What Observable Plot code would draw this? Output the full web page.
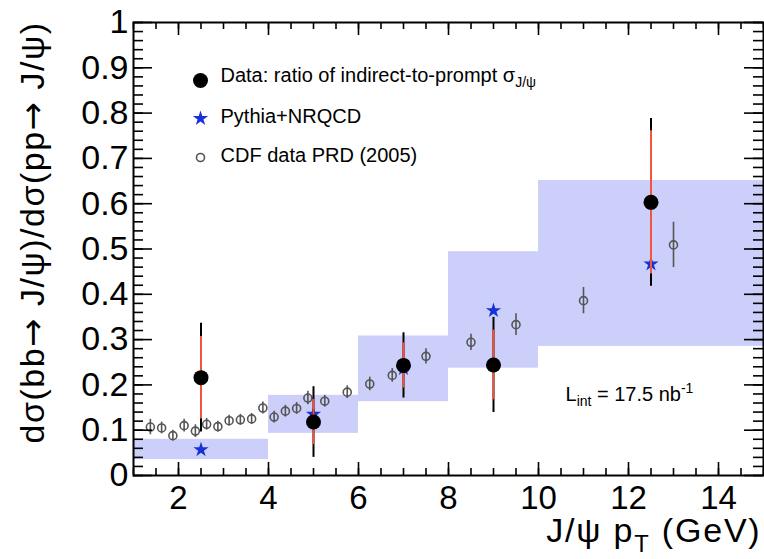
<!DOCTYPE html>
<html><head><meta charset="utf-8">
<script src="https://cdn.jsdelivr.net/npm/d3@7"></script>
<script src="https://cdn.jsdelivr.net/npm/@observablehq/plot@0.6"></script>
<style>
body{margin:0;background:#fff;}
#chart svg{font-family:"Liberation Sans",Arial,Helvetica,sans-serif;}
</style></head><body><div id="chart"></div>
<script>
// ---- data ----
const dataPt = [2.5, 5, 7, 9, 12.5];
const dataRatio = [0.216, 0.118, 0.243, 0.244, 0.603];
const dataStatErr = [0.091, 0.05, 0.05, 0.077, 0.158];
const dataTotErr = [0.12, 0.078, 0.072, 0.105, 0.185];

const pythiaPt = [2.5, 5, 7, 9, 12.5];
const pythiaRatio = [0.057, 0.135, 0.236, 0.364, 0.467];

const bandLo = [1, 4, 6, 8, 10];
const bandHi = [4, 6, 8, 10, 15];
const bandMin = [0.035, 0.093, 0.163, 0.237, 0.285];
const bandMax = [0.080, 0.177, 0.308, 0.494, 0.651];

const cdfPt = [1.375, 1.625, 1.875, 2.125, 2.375, 2.625, 2.875, 3.125, 3.375, 3.625, 3.875, 4.125, 4.375, 4.625, 4.875, 5.25, 5.75, 6.25, 6.75, 7.5, 8.5, 9.5, 11, 13];
const cdfRatio = [0.107, 0.105, 0.088, 0.110, 0.098, 0.113, 0.108, 0.121, 0.123, 0.125, 0.149, 0.129, 0.142, 0.148, 0.171, 0.164, 0.184, 0.202, 0.221, 0.263, 0.294, 0.333, 0.386, 0.509];
const cdfErr = [0.017, 0.013, 0.012, 0.014, 0.014, 0.013, 0.012, 0.012, 0.012, 0.012, 0.013, 0.013, 0.013, 0.013, 0.015, 0.013, 0.014, 0.015, 0.015, 0.017, 0.018, 0.024, 0.029, 0.05];

const xTicks = [2, 4, 6, 8, 10, 12, 14];
const xTickLabels = ["2", "4", "6", "8", "10", "12", "14"];
const yTicks = [0, 0.1, 0.2, 0.3, 0.4, 0.5, 0.6, 0.7, 0.8, 0.9, 1];
const yTickLabels = ["0", "0.1", "0.2", "0.3", "0.4", "0.5", "0.6", "0.7", "0.8", "0.9", "1"];
const xMinor = d3.range(1, 15.001, 0.5);
const yMinor = d3.range(0, 1.0001, 0.02);

const legendLabels = ["Data: ratio of indirect-to-prompt σ_{J/ψ}", "Pythia+NRQCD", "CDF data PRD (2005)"];
const lumiLabel = "L_{int} = 17.5 nb^{-1}";
const xTitle = "J/ψ p_{T} (GeV)";
const yTitle = "dσ(bb→ J/ψ)/dσ(pp→ J/ψ)";

// ---- tables ----
const data = dataPt.map((x, i) => ({x, y: dataRatio[i], s: dataStatErr[i], t: dataTotErr[i]}));
const pythia = pythiaPt.map((x, i) => ({x, y: pythiaRatio[i]}));
const bands = bandLo.map((lo, i) => ({lo, hi: bandHi[i], min: bandMin[i], max: bandMax[i]}));
const cdf = cdfPt.map((x, i) => ({x, y: cdfRatio[i], e: cdfErr[i]}));

// ---- layout ----
const W = 764, H = 559, mL = 133, mR = 1, mT = 22, mB = 84;
const FW = W - mL - mR, FH = H - mT - mB;
const BAND = "#cbcffa", RED = "#f2553c", BLUE = "#1832d8", GREY = "#555";

const svg = Plot.plot({
  width: W, height: H,
  marginLeft: mL, marginRight: mR, marginTop: mT, marginBottom: mB,
  x: {domain: [1, 15]},
  y: {domain: [0, 1]},
  style: {background: "white", color: "black", fontFamily: "Liberation Sans, Arial, sans-serif"},
  marks: [
    Plot.rect(bands, {x1: "lo", x2: "hi", y1: "min", y2: "max", fill: BAND}),
    Plot.ruleX(cdf, {x: "x", y1: d => d.y - d.e, y2: d => d.y + d.e, stroke: GREY, strokeWidth: 1.6}),
    Plot.dot(cdf, {x: "x", y: "y", r: 4, stroke: GREY, fill: "none", strokeWidth: 1.6}),
    Plot.dot(pythia, {x: "x", y: "y", symbol: "star", r: 4.8, fill: BLUE, stroke: "none"}),
    Plot.ruleX(data, {x: "x", y1: d => d.y - d.t, y2: d => d.y + d.t, stroke: "black", strokeWidth: 2}),
    Plot.ruleX(data, {x: "x", y1: d => d.y - d.s, y2: d => d.y + d.s, stroke: RED, strokeWidth: 2}),
    Plot.dot(data, {x: "x", y: "y", r: 7.5, fill: "black", stroke: "none"}),

    // frame and inward ticks
    Plot.frame({stroke: "black", strokeWidth: 2}),
    Plot.tickX(xTicks, {x: d => d, insetTop: FH - 13, stroke: "black", strokeWidth: 1.6}),
    Plot.tickX(xMinor, {x: d => d, insetTop: FH - 7, stroke: "black", strokeWidth: 1.6}),
    Plot.tickX(xTicks, {x: d => d, insetBottom: FH - 13, stroke: "black", strokeWidth: 1.6}),
    Plot.tickX(xMinor, {x: d => d, insetBottom: FH - 7, stroke: "black", strokeWidth: 1.6}),
    Plot.tickY(yTicks, {y: d => d, insetRight: FW - 19, stroke: "black", strokeWidth: 1.6}),
    Plot.tickY(yMinor, {y: d => d, insetRight: FW - 10, stroke: "black", strokeWidth: 1.6}),
    Plot.tickY(yTicks, {y: d => d, insetLeft: FW - 19, stroke: "black", strokeWidth: 1.6}),
    Plot.tickY(yMinor, {y: d => d, insetLeft: FW - 10, stroke: "black", strokeWidth: 1.6}),

    // axes labels
    Plot.axisX({ticks: xTicks, tickSize: 0, tickPadding: 10, fontSize: 33, tickFormat: d => xTickLabels[xTicks.indexOf(d)], label: null}),
    Plot.axisY({ticks: yTicks, tickSize: 0, tickPadding: 5, fontSize: 34, tickFormat: d => yTickLabels[yTicks.indexOf(d)], label: null}),
    Plot.text([xTitle], {frameAnchor: "bottom-right", dx: -2, dy: 56, text: d => d, textAnchor: "end", lineAnchor: "middle", fontSize: 34}),
    Plot.text([yTitle], {frameAnchor: "top-left", dx: -100, dy: -1, text: d => d, textAnchor: "end", lineAnchor: "middle", rotate: -90, fontSize: 34}),

    // legend
    Plot.dot([0], {frameAnchor: "top-left", dx: 67, dy: 58, r: 7.5, fill: "black"}),
    Plot.dot([0], {frameAnchor: "top-left", dx: 67, dy: 96, r: 4.8, symbol: "star", fill: BLUE}),
    Plot.dot([0], {frameAnchor: "top-left", dx: 67, dy: 135, r: 4, stroke: GREY, fill: "none", strokeWidth: 1.6}),
    Plot.text([legendLabels[0]], {frameAnchor: "top-left", dx: 87, dy: 53, text: d => d, textAnchor: "start", lineAnchor: "middle", fontSize: 20}),
    Plot.text([legendLabels[1]], {frameAnchor: "top-left", dx: 87, dy: 94, text: d => d, textAnchor: "start", lineAnchor: "middle", fontSize: 20}),
    Plot.text([legendLabels[2]], {frameAnchor: "top-left", dx: 87, dy: 133, text: d => d, textAnchor: "start", lineAnchor: "middle", fontSize: 20}),
    Plot.text([lumiLabel], {frameAnchor: "top-left", dx: 432, dy: 372, text: d => d, textAnchor: "start", lineAnchor: "middle", fontSize: 20})
  ]
});

// letter spacing for the axis titles
const spacing = new Map([[xTitle, "1.8px"], [yTitle, "1.5px"]]);
d3.select(svg).selectAll("text").each(function () {
  const s = spacing.get(this.textContent);
  if (s) this.style.letterSpacing = s;
});

// rich text: _{sub}, ^{sup}, and wider arrows
function richify(root) {
  d3.select(root).selectAll("text").each(function () {
    const t = this.textContent;
    if (!/[_^]\{|→/.test(t)) return;
    const fs = parseFloat(getComputedStyle(this).fontSize) || 16;
    const sel = d3.select(this);
    sel.text(null);
    const re = /([_^])\{([^}]*)\}|(→)/g;
    let last = 0, m, cur = 0;
    const plain = s => { if (!s) return; const ts = sel.append("tspan").text(s); if (cur) ts.attr("dy", -cur); cur = 0; };
    while ((m = re.exec(t))) {
      plain(t.slice(last, m.index));
      if (m[3]) {
        const ts = sel.append("tspan").attr("font-family", "DejaVu Sans").text(m[3]);
        if (cur) ts.attr("dy", -cur); cur = 0;
      } else {
        const shift = m[1] === "_" ? fs * 0.27 : -fs * 0.4;
        sel.append("tspan").attr("font-size", fs * 0.7).attr("dy", shift - cur).text(m[2]);
        cur = shift;
      }
      last = re.lastIndex;
    }
    plain(t.slice(last));
  });
}
document.getElementById("chart").appendChild(svg);
richify(svg);
</script>
</body></html>
